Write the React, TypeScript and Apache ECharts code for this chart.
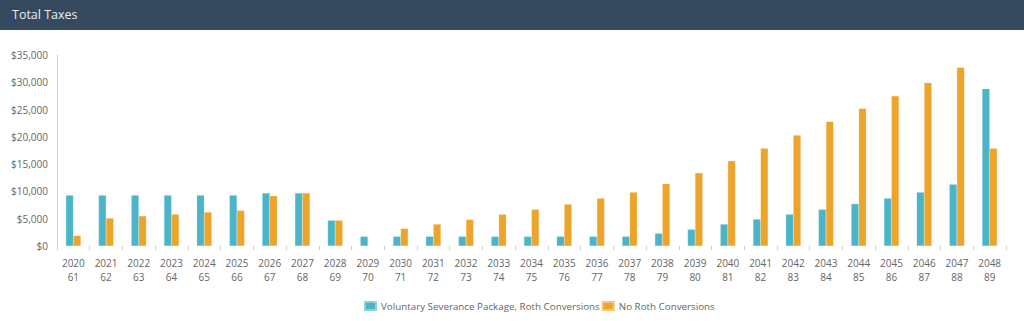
import React, { useEffect, useRef } from "react";
import * as echarts from "echarts";

const years = ["2020","2021","2022","2023","2024","2025","2026","2027","2028","2029","2030","2031","2032","2033","2034","2035","2036","2037","2038","2039","2040","2041","2042","2043","2044","2045","2046","2047","2048"];
const ages = ["61","62","63","64","65","66","67","68","69","70","71","72","73","74","75","76","77","78","79","80","81","82","83","84","85","86","87","88","89"];
const severanceRoth = [9300,9300,9300,9300,9300,9300,9700,9700,4700,1750,1750,1750,1750,1750,1750,1750,1750,1750,2300,3050,4000,4900,5800,6700,7750,8750,9850,11300,28800];
const noRoth = [1900,5100,5500,5800,6200,6500,9200,9700,4700,null,3200,4000,4850,5800,6700,7650,8750,9850,11400,13400,15600,17900,20300,22800,25200,27500,29900,32700,17900];
const yTicks = { min: 0, max: 35000, interval: 5000 };
const legendNames = ["Voluntary Severance Package, Roth Conversions", "No Roth Conversions"];

const FONT = "'Open Sans', sans-serif";

export default function App() {
  const ref = useRef<HTMLDivElement>(null);
  useEffect(() => {
    if (!ref.current) return;
    const chart = echarts.init(ref.current, null, { renderer: "svg" });
    chart.setOption({
      animation: false,
      textStyle: { fontFamily: FONT },
      grid: { left: 57, right: 18, top: 55, bottom: 75 },
      legend: {
        left: 359,
        top: 296,
        itemWidth: 11,
        itemHeight: 8,
        itemGap: 2,
        textStyle: { fontSize: 9.8, color: "#666", fontFamily: FONT },
        data: legendNames.map((n) => ({ name: n, icon: "rect" })),
      },
      xAxis: {
        type: "category",
        data: years.map((y, i) => y + "\n" + ages[i]),
        axisLine: { show: false },
        axisTick: { show: true, length: 4, lineStyle: { color: "#ccc" } },
        axisLabel: { color: "#666", fontSize: 10, lineHeight: 14, margin: 10, interval: 0 },
      },
      yAxis: {
        type: "value",
        min: yTicks.min,
        max: yTicks.max,
        interval: yTicks.interval,
        splitLine: { show: false },
        axisLine: { show: true, lineStyle: { color: "#ccc", type: "dotted" } },
        axisTick: { show: false },
        axisLabel: {
          color: "#666",
          fontSize: 10,
          margin: 9,
          formatter: (v: number) => "$" + v.toLocaleString("en-US"),
        },
      },
      series: [
        {
          name: legendNames[0],
          type: "bar",
          data: severanceRoth,
          barWidth: 7.5,
          barGap: "0%",
          itemStyle: { color: "#4bb5c7", borderColor: "#8fd0da", borderWidth: 0.5, borderType: "dotted" },
        },
        {
          name: legendNames[1],
          type: "bar",
          data: noRoth,
          barWidth: 7.5,
          barGap: "0%",
          itemStyle: { color: "#eca42b", borderColor: "#f3c67a", borderWidth: 0.5, borderType: "dotted" },
        },
      ],
    });
    return () => chart.dispose();
  }, []);
  return (
    <div style={{ position: "absolute", left: 0, top: 0, width: 1024, height: 321, background: "#fff" }}>
      <div
        style={{
          position: "absolute",
          left: 0,
          top: 0,
          width: 1024,
          height: 30,
          background: "#354a5f",
          color: "#e8edf2",
          fontFamily: FONT,
          fontSize: 12.5,
          lineHeight: "29px",
          paddingLeft: 12,
          boxSizing: "border-box",
        }}
      >
        Total Taxes
      </div>
      <div ref={ref} style={{ position: "absolute", left: 0, top: 0, width: 1024, height: 321 }} />
    </div>
  );
}
